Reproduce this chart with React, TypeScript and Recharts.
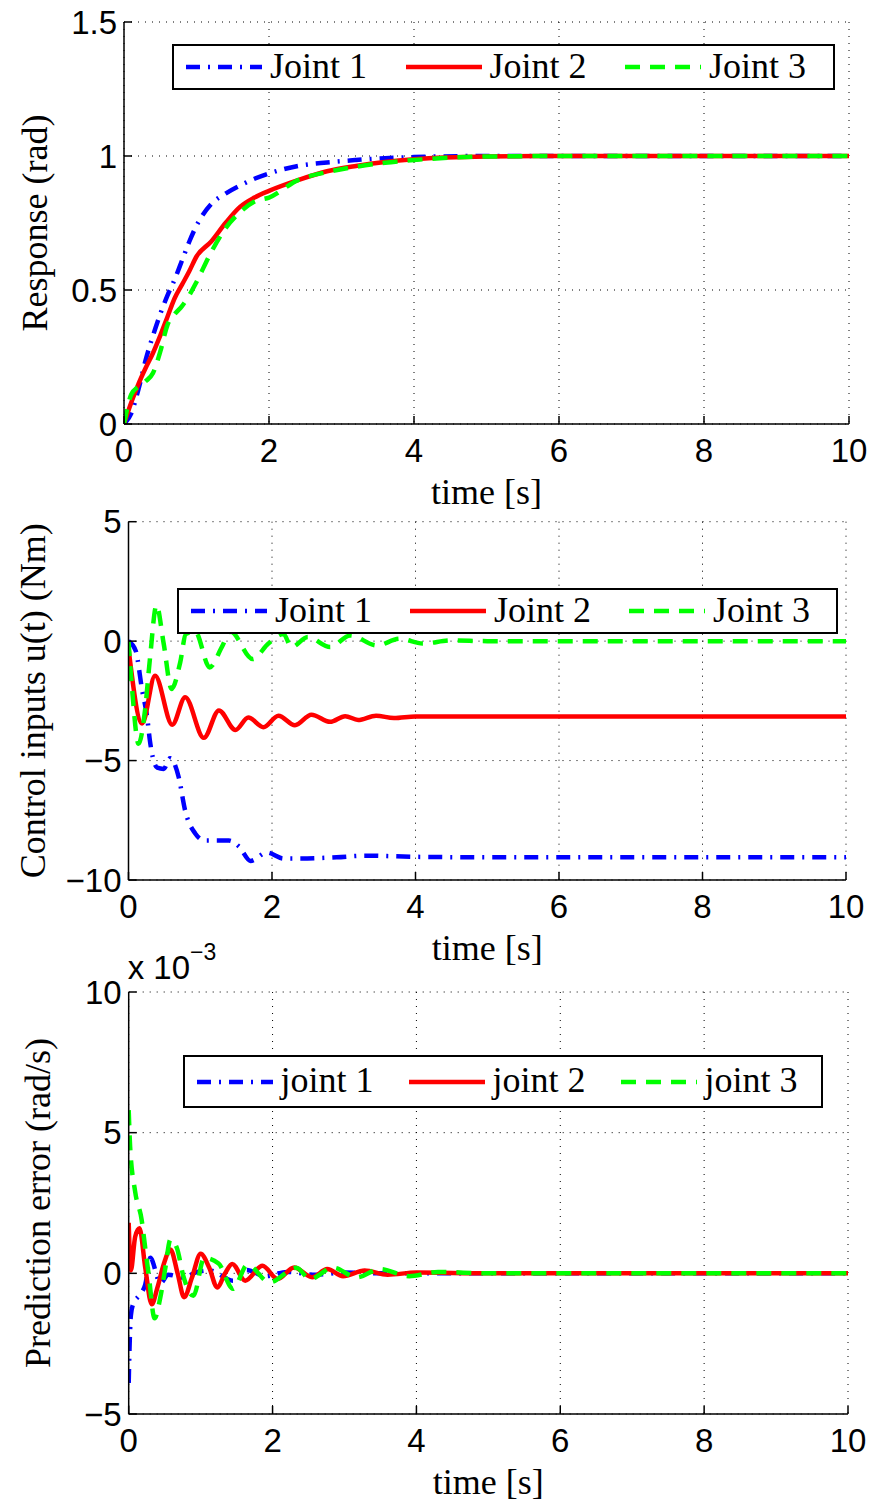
import React from 'react';
import { LineChart, Line, XAxis, YAxis, CartesianGrid, Legend, Label } from 'recharts';

const timeTicks = [0, 2, 4, 6, 8, 10];

// panel 1: response (rad)
const respTime = [0, 0.1, 0.2, 0.3, 0.4, 0.5, 0.6, 0.7, 0.8, 0.9, 1.0, 1.2, 1.4, 1.6, 1.8, 2.0, 2.4, 2.8, 3.2, 3.6, 4.0, 5, 6, 8, 10];
const respJoint1 = [0, 0.04, 0.13, 0.24, 0.33, 0.41, 0.48, 0.54, 0.61, 0.68, 0.74, 0.82, 0.86, 0.89, 0.915, 0.935, 0.963, 0.976, 0.985, 0.992, 0.996, 1, 1, 1, 1];
const respJoint2 = [0, 0.08, 0.15, 0.21, 0.265, 0.33, 0.4, 0.47, 0.52, 0.57, 0.625, 0.68, 0.75, 0.81, 0.845, 0.87, 0.91, 0.943, 0.963, 0.978, 0.988, 0.998, 1, 1, 1];
const respJoint3 = [0, 0.11, 0.14, 0.16, 0.19, 0.27, 0.37, 0.41, 0.44, 0.48, 0.53, 0.64, 0.73, 0.79, 0.83, 0.845, 0.91, 0.94, 0.96, 0.975, 0.985, 0.998, 1, 1, 1];
const respTicks = [0, 0.5, 1, 1.5];

// panel 2: control inputs (Nm)
const ctrlTime1 = [0, 0.1, 0.19, 0.26, 0.3, 0.4, 0.49, 0.58, 0.7, 0.79, 0.93, 1.07, 1.4, 1.54, 1.7, 1.93, 2.16, 2.4, 2.9, 3.32, 3.6, 4.0, 5, 6, 8, 10];
const ctrlJoint1 = [0, -0.4, -2.06, -3.18, -4.2, -5.3, -5.35, -4.9, -5.7, -7.1, -8.05, -8.35, -8.35, -8.6, -9.2, -8.85, -9.1, -9.1, -9.05, -8.98, -9.0, -9.03, -9.05, -9.05, -9.05, -9.05];
const ctrlTime2 = [0, 0.19, 0.37, 0.61, 0.79, 1.05, 1.26, 1.49, 1.67, 1.88, 2.09, 2.32, 2.55, 2.81, 3.02, 3.2, 3.45, 3.7, 4.0, 5, 6, 8, 10];
const ctrlJoint2 = [-0.3, -3.45, -1.45, -3.5, -2.35, -4.05, -2.9, -3.72, -3.2, -3.6, -3.12, -3.52, -3.08, -3.38, -3.14, -3.3, -3.12, -3.22, -3.15, -3.15, -3.15, -3.15, -3.15];
const ctrlTime3 = [0, 0.05, 0.14, 0.23, 0.3, 0.39, 0.49, 0.6, 0.72, 0.8, 0.93, 1.13, 1.3, 1.42, 1.73, 1.95, 2.16, 2.27, 2.5, 2.81, 3.09, 3.46, 3.78, 4.1, 4.5, 5, 6, 8, 10];
const ctrlJoint3 = [0, -2.0, -4.3, -2.9, -0.7, 1.5, -0.1, -2.0, -0.9, 0.3, 0.4, -1.1, -0.25, 0.4, -0.75, -0.1, 0.3, -0.25, 0.17, -0.25, 0.24, -0.18, 0.1, -0.1, 0.03, 0, 0, 0, 0];
const ctrlTicks = [-10, -5, 0, 5];

// panel 3: prediction error (x 10^-3 rad/s)
const errTime1 = [0, 0.01, 0.03, 0.06, 0.14, 0.23, 0.3, 0.44, 0.55, 0.76, 0.95, 1.13, 1.45, 1.64, 1.9, 2.2, 2.6, 3.0, 3.5, 4.0, 5, 6, 8, 10];
const errJoint1 = [-3.9, -2.8, -1.5, -1.1, -0.8, -0.4, 0.55, -0.35, -0.05, -0.15, 0.05, 0.1, -0.26, 0.12, -0.1, 0.05, -0.05, 0.03, 0, 0, 0, 0, 0, 0];
const errTime2 = [0, 0.03, 0.09, 0.15, 0.23, 0.32, 0.4, 0.49, 0.58, 0.68, 0.77, 0.88, 1.0, 1.12, 1.23, 1.34, 1.44, 1.62, 1.86, 2.07, 2.3, 2.55, 2.76, 2.98, 3.28, 3.6, 4.0, 5, 6, 8, 10];
const errJoint2 = [1.8, 0.1, 1.3, 1.6, 0.2, -1.1, -0.5, 0.35, 0.85, 0, -0.85, -0.15, 0.7, 0.2, -0.5, 0, 0.33, -0.26, 0.27, -0.2, 0.21, -0.14, 0.15, -0.1, 0.1, -0.05, 0.03, 0, 0, 0, 0];
const errTime3 = [0, 0.02, 0.09, 0.18, 0.23, 0.28, 0.36, 0.44, 0.51, 0.58, 0.67, 0.76, 0.9, 1.05, 1.25, 1.45, 1.65, 1.96, 2.33, 2.52, 2.84, 3.17, 3.49, 3.9, 4.3, 5, 6, 8, 10];
const errJoint3 = [5.8, 4.5, 2.9, 1.9, 0.9, -0.1, -1.6, -0.85, 0.2, 1.2, 0.9, -0.1, -0.8, 0.55, 0.35, -0.55, 0.3, -0.32, 0.2, -0.2, 0.2, -0.14, 0.15, -0.1, 0.05, 0, 0, 0, 0];
const errTicks = [-5, 0, 5, 10];

const upperLabels = ['Joint 1', 'Joint 2', 'Joint 3'];
const lowerLabels = ['joint 1', 'joint 2', 'joint 3'];

const SANS = '"Liberation Sans", Arial, sans-serif';
const SERIF = '"Liberation Serif", "Times New Roman", serif';

const styles = [
  { color: '#0000ff', dash: '14 8 2 8' },
  { color: '#ff0000', dash: undefined },
  { color: '#00ff00', dash: '15 10' },
];

const pts = (ts: number[], vs: number[]) => ts.map((t, i) => ({ t, v: vs[i] }));
const fmt = (v: number) => String(v).replace('-', '\u2212');

function LegendBox({ labels, width, height, spacing }: any) {
  return (
    <div style={{ position: 'relative', width, height, border: '2px solid #000', background: '#fff', boxSizing: 'border-box' }}>
      {labels.map((lab: string, i: number) => (
        <React.Fragment key={lab}>
          <svg width={76} height={12} style={{ position: 'absolute', left: 12 + i * spacing, top: height / 2 - 8 }}>
            <line x1={0} y1={6} x2={76} y2={6} stroke={styles[i].color} strokeWidth={4.5} strokeDasharray={styles[i].dash} />
          </svg>
          <span style={{ position: 'absolute', left: 96 + i * spacing, top: 0, lineHeight: `${height - 6}px`, fontFamily: SERIF, fontSize: 36, color: '#000', whiteSpace: 'nowrap' }}>{lab}</span>
        </React.Fragment>
      ))}
    </div>
  );
}

function Panel(props: any) {
  const { top, height, margin, domain, ticks, title, titleX, series, labels, legend, scale } = props;
  return (
    <div style={{ position: 'absolute', left: 0, top, width: 875, height }}>
      <LineChart width={875} height={height} margin={margin}>
        <CartesianGrid stroke="#000" strokeDasharray="1 6" strokeWidth={1} />
        <XAxis dataKey="t" type="number" domain={[0, 10]} ticks={timeTicks} interval={0} allowDataOverflow
          height={60} stroke="#000" strokeWidth={1.5} tickSize={-8} tickMargin={23}
          tick={{ fill: '#000', fontSize: 33, fontFamily: SANS }}>
          <Label content={(p: any) => {
            const vb = p.viewBox;
            return <text x={vb.x + vb.width / 2} y={vb.y + 80} textAnchor="middle" fontFamily={SERIF} fontSize={36} fill="#000">time [s]</text>;
          }} />
        </XAxis>
        <YAxis type="number" domain={domain} ticks={ticks} interval={0} allowDataOverflow width={100}
          stroke="#000" strokeWidth={1.5} tickSize={-8} tickMargin={15} tickFormatter={fmt}
          tick={{ fill: '#000', fontSize: 33, fontFamily: SANS }}>
          <Label content={(p: any) => {
            const vb = p.viewBox;
            const cy = vb.y + vb.height / 2;
            return (
              <g>
                <text x={titleX} y={cy} transform={`rotate(-90 ${titleX} ${cy})`} textAnchor="middle" fontFamily={SERIF} fontSize={36} fill="#000">{title}</text>
                {scale && (
                  <text x={vb.x + vb.width - 1} y={vb.y - 13} fontFamily={SANS} fontSize={33} fill="#000">
                    x 10<tspan dy={-19} fontSize={23}>{'\u22123'}</tspan>
                  </text>
                )}
              </g>
            );
          }} />
        </YAxis>
        <Legend verticalAlign="middle" align="center" layout="horizontal"
          wrapperStyle={{ left: legend.left, top: legend.top - top, width: legend.width, height: legend.height }}
          content={() => <LegendBox labels={labels} width={legend.width} height={legend.height} spacing={legend.spacing} />} />
        {series.map((d: any, i: number) => (
          <Line key={i} data={d} dataKey="v" type="monotone" stroke={styles[i].color} strokeWidth={4.5}
            strokeDasharray={styles[i].dash} dot={false} activeDot={false} isAnimationActive={false} />
        ))}
      </LineChart>
    </div>
  );
}

export default function App() {
  return (
    <div style={{ position: 'absolute', left: 0, top: 0, width: 875, height: 1505, background: '#fff' }}>
      <Panel top={0} height={515} margin={{ top: 22, right: 26, bottom: 31, left: 24 }}
        domain={[0, 1.5]} ticks={respTicks} title="Response (rad)" titleX={47}
        series={[pts(respTime, respJoint1), pts(respTime, respJoint2), pts(respTime, respJoint3)]}
        labels={upperLabels} legend={{ left: 172, top: 43.5, width: 663, height: 46, spacing: 219.5 }} />
      <Panel top={490} height={495} margin={{ top: 31.7, right: 29, bottom: 45, left: 28.5 }}
        domain={[-10, 5]} ticks={ctrlTicks} title="Control inputs u(t) (Nm)" titleX={45}
        series={[pts(ctrlTime1, ctrlJoint1), pts(ctrlTime2, ctrlJoint2), pts(ctrlTime3, ctrlJoint3)]}
        labels={upperLabels} legend={{ left: 177, top: 587.5, width: 661, height: 46, spacing: 219 }} />
      <Panel top={935} height={570} margin={{ top: 57, right: 27, bottom: 31, left: 28.7 }}
        domain={[-5, 10]} ticks={errTicks} title="Prediction error (rad/s)" titleX={50} scale
        series={[pts(errTime1, errJoint1), pts(errTime2, errJoint2), pts(errTime3, errJoint3)]}
        labels={lowerLabels} legend={{ left: 182.5, top: 1055, width: 640, height: 53, spacing: 212 }} />
    </div>
  );
}
